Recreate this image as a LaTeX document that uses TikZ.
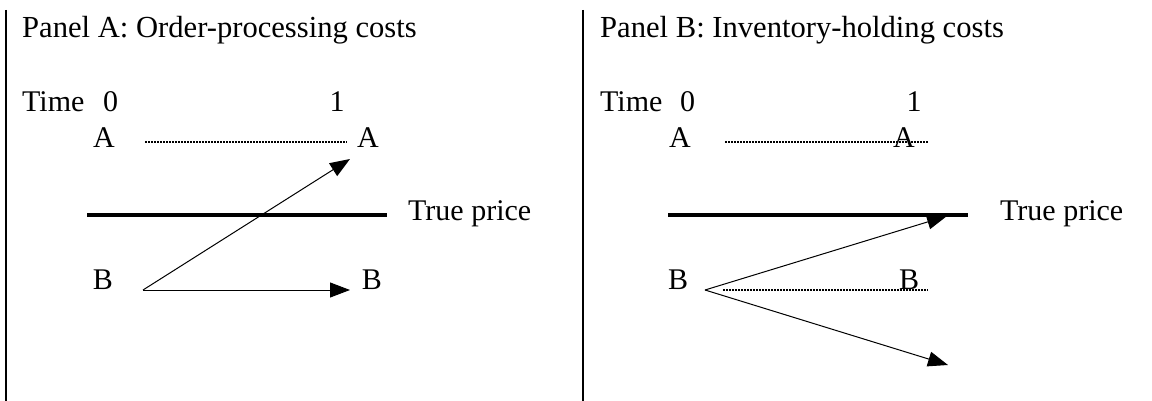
\documentclass[tikz,border=0pt]{standalone}
\usepackage{fontspec}
\setmainfont{Liberation Serif}
\usetikzlibrary{arrows.meta}

\begin{document}
\begin{tikzpicture}[
    x=1pt, y=-1pt,
    lbl/.style={anchor=base west, inner sep=0pt, font=\fontsize{30}{36}\selectfont},
    clbl/.style={lbl, anchor=base},
    ttl/.style={lbl, font=\fontsize{30.6}{36}\selectfont},
    divider/.style={line width=2.5pt},
    trueline/.style={line width=4pt},
    arr/.style={-{Triangle[length=20pt, width=15pt]}, line width=1pt},
    dotline/.style={line width=1.3pt, dash pattern=on 1.5pt off 1.5pt},
]
\useasboundingbox (0,0) rectangle (1152,401);

% Panel dividers
\coordinate (divAtop) at (6,10);
\coordinate (divAbot) at (6,401);
\coordinate (divBtop) at (583,10);
\coordinate (divBbot) at (583,401);
\draw[divider] (divAtop) -- (divAbot);
\draw[divider] (divBtop) -- (divBbot);

% Panel A labels
\node[ttl]  (titleA) at (22,38)   {Panel A: Order-processing costs};
\node[lbl]  (timeA)  at (22,112)  {Time};
\node[lbl]  (zeroA)  at (103,112) {0};
\node[clbl] (oneA)   at (337,112) {1};
\node[clbl] (askA0)  at (104,148) {A};
\node[clbl] (askA1)  at (368,148) {A};
\node[clbl] (bidA0)  at (103,289) {B};
\node[clbl] (bidA1)  at (372,289) {B};
\node[lbl]  (priceA) at (408,220) {True price};

% Panel A lines
\coordinate (dotAs)  at (145,142);
\coordinate (dotAe)  at (347,142);
\coordinate (trueAs) at (87,215);
\coordinate (trueAe) at (387,215);
\coordinate (bidA)   at (143,290);
\coordinate (upA)    at (350,159);
\coordinate (flatA)  at (350,290);
\draw[dotline]  (dotAs) -- (dotAe);
\draw[trueline] (trueAs) -- (trueAe);
\draw[arr] (bidA) -- (upA);
\draw[arr] (bidA) -- (flatA);

% Panel B labels
\node[ttl]  (titleB) at (600,38)  {Panel B: Inventory-holding costs};
\node[lbl]  (timeB)  at (600,112) {Time};
\node[lbl]  (zeroB)  at (680,112) {0};
\node[clbl] (oneB)   at (914,112) {1};
\node[clbl] (askB0)  at (680,148) {A};
\node[clbl] (askB1)  at (904,148) {A};
\node[clbl] (bidB0)  at (678,289) {B};
\node[clbl] (bidB1)  at (909,289) {B};
\node[lbl]  (priceB) at (1000,220) {True price};

% Panel B lines
\coordinate (dotBs)  at (725,142);
\coordinate (dotBe)  at (928,142);
\coordinate (dotBs2) at (723,290);
\coordinate (dotBe2) at (928,290);
\coordinate (trueBs) at (668,215);
\coordinate (trueBe) at (968,215);
\coordinate (bidB)   at (705,290);
\coordinate (upB)    at (947,216);
\coordinate (downB)  at (948,365);
\draw[dotline]  (dotBs) -- (dotBe);
\draw[dotline]  (dotBs2) -- (dotBe2);
\draw[trueline] (trueBs) -- (trueBe);
\draw[arr] (bidB) -- (upB);
\draw[arr] (bidB) -- (downB);

\end{tikzpicture}
\end{document}
